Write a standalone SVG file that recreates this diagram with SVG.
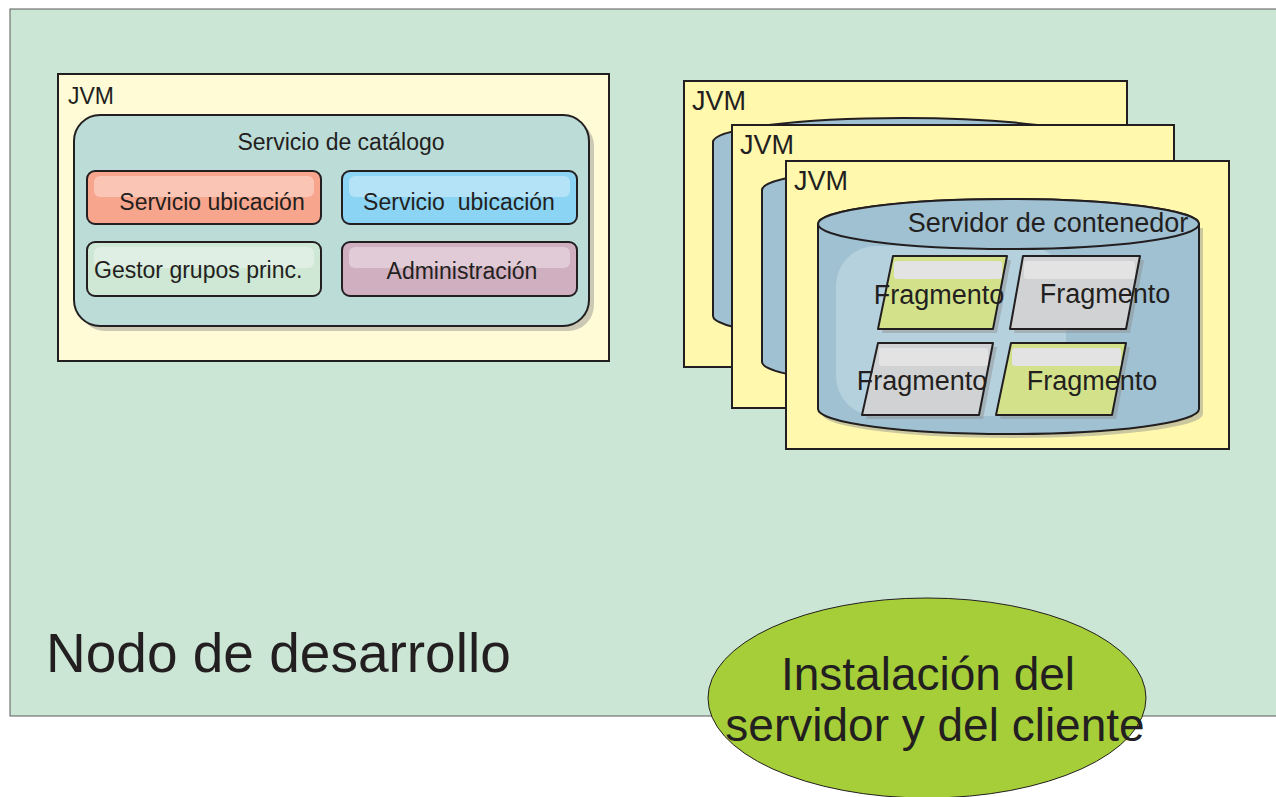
<svg xmlns="http://www.w3.org/2000/svg" width="1276" height="797" viewBox="0 0 1276 797">
<style>
text{font-family:"Liberation Sans",Arial,sans-serif;fill:#231f20}
.jvm{fill:#fff8ad;stroke:#231f20;stroke-width:2}
.box{stroke:#231f20;stroke-width:2}
.hl{fill:#ffffff;opacity:0.35}
.cyl{fill:#a0c1d2;stroke:#231f20;stroke-width:2}
.frag{stroke:#231f20;stroke-width:2;stroke-linejoin:round}
.shadow{fill:#8c8c8c;opacity:0.45}
.s{font-size:23px}
.m{font-size:27px}
.l{font-size:46px}
</style>
<rect width="1276" height="797" fill="#ffffff"/>
<g id="nodo">
<rect x="10" y="9" width="1275" height="707" fill="#cbe6d5" stroke="#5a5a5a" stroke-width="1"/>
<text x="46" y="672" font-size="55">Nodo de desarrollo</text>
</g>
<g id="jvm-catalogo">
<rect x="58" y="74" width="551" height="287" fill="#fffbd6" stroke="#231f20" stroke-width="2"/>
<text x="68" y="104" class="s">JVM</text>
<g id="servicio-catalogo">
<rect x="79" y="120" width="515" height="211" rx="26" class="shadow"/>
<rect x="74" y="115" width="515" height="211" rx="26" fill="#bcdcd8" stroke="#231f20" stroke-width="2"/>
<text x="341" y="150" class="s" text-anchor="middle">Servicio de catálogo</text>
</g>
<g id="ubicacion1">
<rect x="87" y="171" width="234" height="53" rx="8" fill="#f7a68d" class="box"/>
<rect x="94" y="176" width="220" height="21" rx="6" class="hl"/>
<text x="212" y="210" class="s" text-anchor="middle">Servicio ubicación</text>
</g>
<g id="ubicacion2">
<rect x="342" y="171" width="235" height="53" rx="8" fill="#8cd4f4" class="box"/>
<rect x="349" y="176" width="221" height="21" rx="6" class="hl"/>
<text x="459" y="210" class="s" text-anchor="middle" xml:space="preserve">Servicio  ubicación</text>
</g>
<g id="gestor">
<rect x="87" y="242" width="234" height="54" rx="8" fill="#cfe7d5" class="box"/>
<rect x="94" y="247" width="220" height="21" rx="6" class="hl"/>
<text x="94" y="278" class="s">Gestor grupos princ.</text>
</g>
<g id="administracion">
<rect x="342" y="242" width="235" height="54" rx="8" fill="#cfafc0" class="box"/>
<rect x="349" y="247" width="221" height="21" rx="6" class="hl"/>
<text x="462" y="279" class="s" text-anchor="middle">Administración</text>
</g>
</g>
<g id="jvm-back">
<rect x="684" y="81" width="443" height="286" class="jvm"/>
<text x="692" y="110" class="m">JVM</text>
<path d="M713,142 A190,24 0 0 1 1093,142 L1093,316 A190,24 0 0 1 713,316 Z" class="cyl"/>
</g>
<g id="jvm-middle">
<rect x="732" y="125" width="442" height="283" class="jvm"/>
<text x="740" y="154" class="m">JVM</text>
<path d="M762,190 A190,24 0 0 1 1142,190 L1142,362 A190,24 0 0 1 762,362 Z" class="cyl"/>
</g>
<g id="jvm-front">
<rect x="786" y="161" width="443" height="288" class="jvm"/>
<text x="794" y="190" class="m">JVM</text>
</g>
<g id="servidor-contenedor">
<path d="M822,228 L1203,228 L1203,414 A190,24 0 0 1 822,414 Z" class="shadow"/>
<path d="M818,224 A190,25 0 0 1 1199,224 L1199,409 A190.5,25 0 0 1 818,409 Z" class="cyl"/>
<rect x="836" y="246" width="230" height="170" rx="40" fill="#b6d1de"/>
<ellipse cx="1008.5" cy="224" rx="190.5" ry="25" fill="#a0c1d2" stroke="#231f20" stroke-width="2"/>
<text x="1048" y="232" class="m" text-anchor="middle">Servidor de contenedor</text>
</g>
<g id="fragmento1">
<path d="M897,260 L1011,260 L997,333 L882,333 Z" class="shadow"/>
<path d="M893,256 L1007,256 L993,329 L878,329 Z" fill="#d3e28a" class="frag"/>
<rect x="894" y="261" width="108" height="18" rx="3" fill="#e3e3e3"/>
<text x="939" y="304" class="m" text-anchor="middle">Fragmento</text>
</g>
<g id="fragmento2">
<path d="M1027,260 L1144,260 L1130,333 L1014,333 Z" class="shadow"/>
<path d="M1023,256 L1140,256 L1126,329 L1010,329 Z" fill="#d1d2d4" class="frag"/>
<rect x="1024" y="261" width="111" height="18" rx="3" fill="#e3e3e3"/>
<text x="1105" y="303" class="m" text-anchor="middle">Fragmento</text>
</g>
<g id="fragmento3">
<path d="M882,347 L997,347 L983,419 L866,419 Z" class="shadow"/>
<path d="M878,343 L993,343 L979,415 L862,415 Z" fill="#d1d2d4" class="frag"/>
<rect x="879" y="348" width="109" height="18" rx="3" fill="#e3e3e3"/>
<text x="922" y="390" class="m" text-anchor="middle">Fragmento</text>
</g>
<g id="fragmento4">
<path d="M1015,347 L1130,347 L1116,419 L1000,419 Z" class="shadow"/>
<path d="M1011,343 L1126,343 L1112,415 L996,415 Z" fill="#d3e28a" class="frag"/>
<rect x="1012" y="348" width="109" height="18" rx="3" fill="#e3e3e3"/>
<text x="1092" y="390" class="m" text-anchor="middle">Fragmento</text>
</g>
<g id="instalacion">
<ellipse cx="927" cy="698" rx="219" ry="100" fill="#a6ce39" stroke="#231f20" stroke-width="1"/>
<text x="928" y="690" class="l" text-anchor="middle">Instalación del</text>
<text x="935" y="741" class="l" text-anchor="middle">servidor y del cliente</text>
</g>
<g id="connectors"/>
</svg>
